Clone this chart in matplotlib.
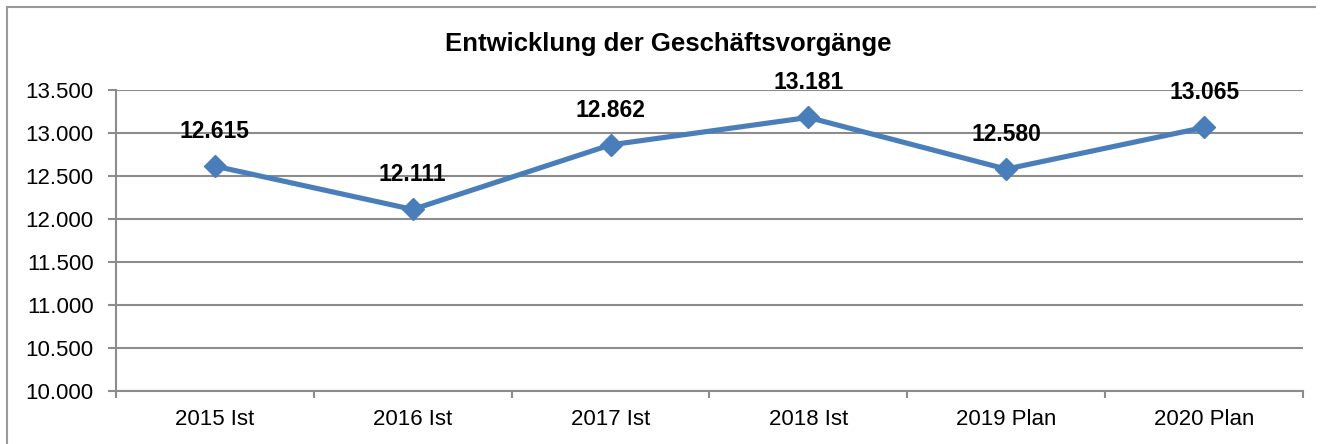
import matplotlib.pyplot as plt
from matplotlib.lines import Line2D

plt.rcParams["font.family"] = ["Liberation Sans", "DejaVu Sans"]

categories = ["2015 Ist", "2016 Ist", "2017 Ist", "2018 Ist", "2019 Plan", "2020 Plan"]
values = [12615, 12111, 12862, 13181, 12580, 13065]
y_ticks = [10000, 10500, 11000, 11500, 12000, 12500, 13000, 13500]

LINE_BLUE = "#4a7ebb"
GRID_GREY = "#8c8c8c"


def de_format(v):
    # German thousands separator
    return f"{v:,}".replace(",", ".")


fig = plt.figure(figsize=(13.21, 4.44), dpi=100)
ax = fig.add_axes([116 / 1321, 1 - 391 / 444, (1303 - 116) / 1321, (391 - 90) / 444])

xs = list(range(len(categories)))
ax.plot(xs, values, color=LINE_BLUE, linewidth=3.7, marker="D", markersize=11,
        markerfacecolor=LINE_BLUE, markeredgecolor=LINE_BLUE, zorder=3)

for x, v in zip(xs, values):
    ax.annotate(de_format(v), (x, v), xytext=(0, 25), textcoords="offset points",
                ha="center", va="center", fontsize=16.5, fontweight="bold", color="black")

ax.set_xlim(-0.5, len(categories) - 0.5)
ax.set_ylim(y_ticks[0], y_ticks[-1])
ax.set_yticks(y_ticks)
ax.set_yticklabels([de_format(t) for t in y_ticks], fontsize=16)
ax.set_xticks(xs)
ax.set_xticklabels(categories, fontsize=16)
ax.tick_params(axis="x", length=0, pad=13)
ax.set_xticks([i - 0.5 for i in range(len(categories) + 1)], minor=True)
ax.tick_params(axis="x", which="minor", length=5, width=1.5, color=GRID_GREY, direction="out")
ax.tick_params(axis="y", length=6, width=1.5, color=GRID_GREY, pad=10)

ax.grid(axis="y", color=GRID_GREY, linewidth=1.5)
ax.set_axisbelow(True)
for side in ("top", "right"):
    ax.spines[side].set_visible(False)
for side in ("left", "bottom"):
    ax.spines[side].set_color(GRID_GREY)
    ax.spines[side].set_linewidth(1.5)

fig.text(668 / 1321, 1 - 44 / 444, "Entwicklung der Geschäftsvorgänge",
         ha="center", va="center", fontsize=18.5, fontweight="bold")

# outer chart border (cropped at right and bottom)
fig.add_artist(Line2D([7 / 1321, 7 / 1321], [0, 1 - 7 / 444], transform=fig.transFigure,
                      color="#999999", linewidth=1.5))
fig.add_artist(Line2D([7 / 1321, 1315 / 1321], [1 - 7 / 444, 1 - 7 / 444], transform=fig.transFigure,
                      color="#999999", linewidth=1.5))

fig.savefig("out.png", dpi=100)
